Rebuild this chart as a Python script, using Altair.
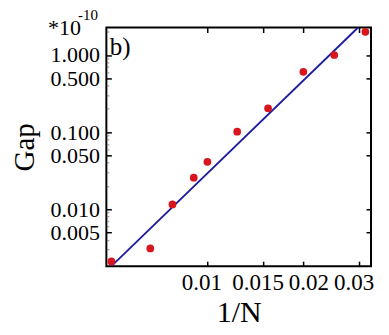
import altair as alt
import pandas as pd

# data
inv_n = [0.0050, 0.00662, 0.00777, 0.00906, 0.0100, 0.0124, 0.0155, 0.0200, 0.0250, 0.0313]
gap = [0.00209, 0.00309, 0.0115, 0.0256, 0.0410, 0.101, 0.203, 0.605, 1.00, 2.00]
fit_x = [0.0050, 0.0297]
fit_y = [0.001816, 2.275]
x_ticks = [0.01, 0.015, 0.02, 0.03]
y_ticks = [0.005, 0.01, 0.05, 0.1, 0.5, 1.0]
y_minor = [0.002, 0.003, 0.004, 0.006, 0.007, 0.008, 0.009,
           0.02, 0.03, 0.04, 0.06, 0.07, 0.08, 0.09,
           0.2, 0.3, 0.4, 0.6, 0.7, 0.8, 0.9, 2.0]

pts = pd.DataFrame({"x": inv_n, "y": gap})
fit = pd.DataFrame({"x": fit_x, "y": fit_y})

FONT = "Liberation Serif"
xs = alt.Scale(type="log", domain=[0.00482, 0.0326], nice=False)
ys = alt.Scale(type="log", domain=[0.001816, 2.275], nice=False)

x_main = alt.Axis(values=x_ticks, format=".3~f", title="1/N", domain=False, grid=False,
                  tickSize=5, offset=-5, tickWidth=1.5, tickColor="black",
                  labelFont=FONT, labelFontSize=23, labelColor="black", labelPadding=5,
                  labelOverlap=False, labelFlush=False,
                  labelOffset={"condition": {"test": "datum.value > 0.018 && datum.value < 0.025", "value": 5}, "value": -6},
                  titleFont=FONT, titleFontSize=30, titleFontWeight="normal", titleColor="black", titlePadding=3)
y_main = alt.Axis(values=y_ticks, format=".3f", title="Gap", domain=False, grid=False,
                  tickSize=5, offset=-5, tickWidth=1.5, tickColor="black",
                  labelFont=FONT, labelFontSize=22, labelColor="black", labelPadding=7,
                  labelOverlap=False, labelFlush=False,
                  titleFont=FONT, titleFontSize=29, titleFontWeight="normal", titleColor="black", titlePadding=10)

line = alt.Chart(fit).mark_line(color="#1c1c9c", strokeWidth=1.8).encode(
    x=alt.X("x:Q", scale=xs, axis=x_main),
    y=alt.Y("y:Q", scale=ys, axis=y_main),
)

dots = alt.Chart(pts).mark_circle(color="#d8161e", size=60, opacity=1).encode(
    x=alt.X("x:Q", scale=xs, axis=None),
    y=alt.Y("y:Q", scale=ys, axis=None),
)

mirror = alt.Chart(pts).mark_point(opacity=0).encode(
    x=alt.X("x:Q", scale=xs, axis=alt.Axis(orient="top", values=x_ticks, labels=False, title=None,
                                            domain=False, grid=False, tickSize=5, offset=-5,
                                            tickWidth=1.5, tickColor="black")),
    y=alt.Y("y:Q", scale=ys, axis=alt.Axis(orient="right", values=y_ticks, labels=False, title=None,
                                            domain=False, grid=False, tickSize=5, offset=-5,
                                            tickWidth=1.5, tickColor="black")),
)

minor = alt.Chart(pts).mark_point(opacity=0).encode(
    x=alt.X("x:Q", scale=xs, axis=None),
    y=alt.Y("y:Q", scale=ys, axis=alt.Axis(orient="left", values=y_minor, labels=False, title=None,
                                            domain=False, grid=False, tickSize=2.5, offset=-2.5,
                                            tickWidth=1, tickColor="#888888")),
)

ann = pd.DataFrame({"t": ["b)"]})
label_b = alt.Chart(ann).mark_text(font=FONT, fontSize=25, align="left", baseline="alphabetic",
                                   color="black").encode(
    text="t:N", x=alt.value(3.5), y=alt.value(27.5))

exp_base = alt.Chart(pd.DataFrame({"t": ["*10"]})).mark_text(
    font=FONT, fontSize=22, align="left", baseline="alphabetic", color="black").encode(
    text="t:N", x=alt.value(-58.5), y=alt.value(7.7))
exp_sup = alt.Chart(pd.DataFrame({"t": ["-10"]})).mark_text(
    font=FONT, fontSize=15, align="left", baseline="alphabetic", color="black").encode(
    text="t:N", x=alt.value(-28.5), y=alt.value(-7.3))

chart = alt.layer(line, dots, mirror, minor, label_b, exp_base, exp_sup).resolve_axis(
    x="independent", y="independent"
).properties(
    width=265, height=239,
    autosize=alt.AutoSizeParams(type="none"),
    padding={"left": 98.5, "top": 19.3, "right": 10, "bottom": 66},
    background="white",
).configure_view(stroke="black", strokeWidth=2).configure_axis(
    labelFont=FONT, titleFont=FONT
).configure_text(font=FONT)

chart.save("out.html", embed_options={"renderer": "svg", "actions": False})
